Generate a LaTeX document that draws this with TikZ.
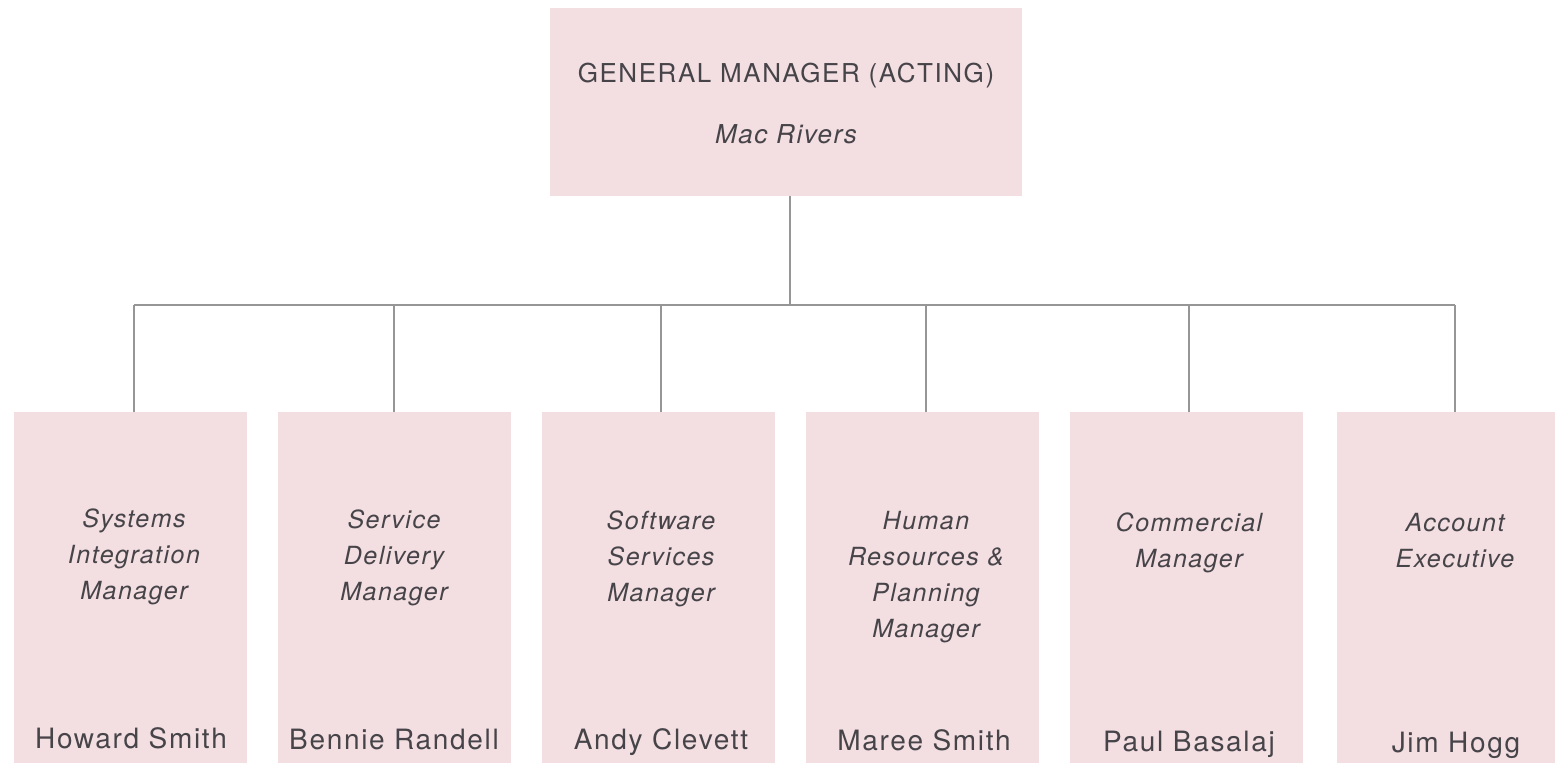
\documentclass[tikz,border=0pt]{standalone}
\usepackage{fontspec}
\setmainfont{TeX Gyre Heros}[LetterSpace=6]
\usepackage{xcolor}
\definecolor{boxpink}{RGB}{243,222,226}
\definecolor{inkgrey}{RGB}{70,68,72}
\definecolor{wiregrey}{RGB}{150,150,150}

\begin{document}
\begin{tikzpicture}[x=0.5pt, y=-0.5pt,
		postbox/.style = {fill = boxpink, minimum width = 116.5pt, minimum height = 175.5pt, inner sep = 0pt},
		role/.style = {text = inkgrey, align = center, anchor = north, inner sep = 0pt, font = \itshape\fontsize{12.5}{18}\selectfont},
		holder/.style = {text = inkgrey, anchor = base, inner sep = 0pt, font = \fontsize{14}{16}\selectfont},
		wire/.style = {draw = wiregrey, line width = 0.7pt}]
		\useasboundingbox (0,0) rectangle (1555,767);
		\node[fill = boxpink, minimum width = 236pt, minimum height = 94pt, inner sep = 0pt] at (786, 102)(gm){};
		\node[text = inkgrey, anchor = base, font = \fontsize{13}{15}\selectfont] at (786, 82)(gmrole){GENERAL MANAGER (ACTING)};
		\node[text = inkgrey, anchor = base, font = \itshape\fontsize{13}{15}\selectfont] at (786, 143)(gmname){Mac Rivers};

		\node[postbox] at (130, 587.5)(b1){};
		\node[postbox] at (394, 587.5)(b2){};
		\node[postbox] at (658, 587.5)(b3){};
		\node[postbox] at (922, 587.5)(b4){};
		\node[postbox] at (1186, 587.5)(b5){};
		\node[postbox] at (1453, 587.5)(b6){};

		\node[role] at (134, 508)(r1){Systems\\Integration\\Manager};
		\node[role] at (394, 509)(r2){Service\\Delivery\\Manager};
		\node[role] at (661, 510)(r3){Software\\Services\\Manager};
		\node[role] at (926, 511)(r4){Human\\Resources \&\\Planning\\Manager};
		\node[role] at (1189, 512)(r5){Commercial\\Manager};
		\node[role] at (1455, 513)(r6){Account\\Executive};

		\node[holder] at (131, 748)(h1){Howard Smith};
		\node[holder] at (394, 749)(h2){Bennie Randell};
		\node[holder] at (661, 749)(h3){Andy Clevett};
		\node[holder] at (924, 750)(h4){Maree Smith};
		\node[holder] at (1189, 751)(h5){Paul Basalaj};
		\node[holder] at (1456, 752)(h6){Jim Hogg};

		\coordinate (busl) at (134, 305);
		\coordinate (busr) at (1455, 305);
		\path[wire]
			(busl) edge (busr)
			(gm.south -| 790, 0) edge (790, 305)
			(b1.north -| busl) edge (busl)
			(b2.north) edge (b2.north |- busl)
			(b3.north -| 661, 0) edge (661, 305)
			(b4.north -| 926, 0) edge (926, 305)
			(b5.north -| 1189, 0) edge (1189, 305)
			(b6.north -| busr) edge (busr);
	\end{tikzpicture}
\end{document}
